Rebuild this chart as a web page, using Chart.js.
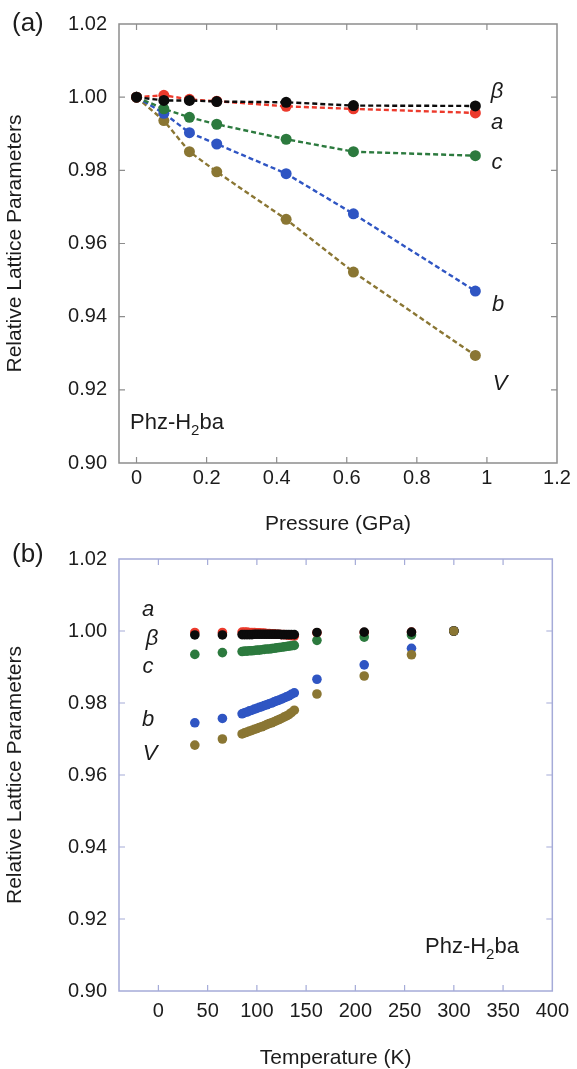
<!DOCTYPE html>
<html>
<head>
<meta charset="utf-8">
<script src="https://cdn.jsdelivr.net/npm/chart.js@4.4.1/dist/chart.umd.min.js"></script>
<style>
  body { margin: 0; background: #fff; width: 577px; height: 1069px; overflow: hidden; }
  canvas { display: block; }
</style>
</head>
<body>
<canvas id="pressureChart" width="577" height="535"></canvas>
<canvas id="tempChart" width="577" height="534"></canvas>
<script>
// (a) relative lattice parameters vs pressure (GPa)
var pressure = [0, 0.078, 0.151, 0.229, 0.427, 0.619, 0.967];
var pBeta = [1.0, 0.9991, 0.9991, 0.9988, 0.9986, 0.9977, 0.9976];
var pA    = [1.0, 1.0005, 0.9994, 0.9989, 0.9975, 0.9968, 0.9957];
var pC    = [1.0, 0.9968, 0.9945, 0.9926, 0.9885, 0.9851, 0.9840];
var pB    = [1.0, 0.9956, 0.9903, 0.9872, 0.9791, 0.9681, 0.9470];
var pV    = [1.0, 0.9936, 0.9851, 0.9796, 0.9666, 0.9522, 0.9294];

// (b) relative lattice parameters vs temperature (K)
var temperature = [37, 65,
  85, 87.5, 90, 92.5, 95, 97.5, 100, 102.5, 105, 107.5, 110,
  112.5, 115, 117.5, 120, 122.5, 125, 127.5, 130, 132.5, 135, 138,
  161, 209, 257, 300];
var tA = [0.9996, 0.9996,
  0.9997, 0.9997, 0.9997, 0.9996, 0.9996, 0.9996, 0.9995, 0.9995, 0.9994, 0.9994, 0.9993,
  0.9993, 0.9992, 0.9992, 0.9991, 0.9991, 0.9990, 0.9990, 0.9989, 0.9988, 0.9987, 0.9986,
  0.9995, 0.9996, 0.9997, 1.0];
var tBeta = [0.9989, 0.9989,
  0.9990, 0.9990, 0.9990, 0.9990, 0.9990, 0.9991, 0.9991, 0.9991, 0.9991, 0.9991, 0.9991,
  0.9991, 0.9991, 0.9991, 0.9991, 0.9991, 0.9990, 0.9990, 0.9990, 0.9990, 0.9990, 0.9990,
  0.9996, 0.9997, 0.9997, 1.0];
var tC = [0.9935, 0.9940,
  0.9943, 0.9944, 0.9944, 0.9945, 0.9945, 0.9946, 0.9947, 0.9947, 0.9948, 0.9949, 0.9950,
  0.9950, 0.9951, 0.9952, 0.9953, 0.9954, 0.9955, 0.9956, 0.9957, 0.9958, 0.9959, 0.9960,
  0.9974, 0.9983, 0.9989, 1.0];
var tB = [0.9745, 0.9757,
  0.9770, 0.9773, 0.9775, 0.9778, 0.9780, 0.9783, 0.9785, 0.9788, 0.9790, 0.9793, 0.9795,
  0.9798, 0.9800, 0.9803, 0.9806, 0.9808, 0.9811, 0.9814, 0.9817, 0.9820, 0.9824, 0.9828,
  0.9866, 0.9906, 0.9952, 1.0];
var tV = [0.9683, 0.9700,
  0.9714, 0.9717, 0.9719, 0.9722, 0.9724, 0.9727, 0.9729, 0.9732, 0.9734, 0.9737, 0.9740,
  0.9743, 0.9745, 0.9748, 0.9751, 0.9754, 0.9757, 0.9761, 0.9764, 0.9768, 0.9773, 0.9780,
  0.9825, 0.9875, 0.9934, 1.0];

var pressureTicks = [0, 0.2, 0.4, 0.6, 0.8, 1, 1.2];
var tempTicks = [0, 50, 100, 150, 200, 250, 300, 350, 400];
var latticeTicks = [0.90, 0.92, 0.94, 0.96, 0.98, 1.00, 1.02];

var FONT = '"Liberation Sans", Arial, Helvetica, sans-serif';
var TEXT = '#1c1c1c';
var col = {
  a: '#ec3a2c',
  beta: '#0b0b0b',
  c: '#2c7a3e',
  b: '#2f55c3',
  V: '#8a7633'
};

Chart.defaults.font.family = FONT;
Chart.defaults.color = TEXT;

function pts(xs, ys) {
  return xs.map(function (x, i) { return { x: x, y: ys[i] }; });
}

// box round the plot area with inward tick marks on all four sides
var frameTicks = {
  id: 'frameTicks',
  beforeDatasetsDraw: function (chart, args, opts) {
    var ctx = chart.ctx, a = chart.chartArea;
    var xs = chart.scales.x, ys = chart.scales.y, len = 6;
    ctx.save();
    ctx.strokeStyle = opts.color;
    ctx.lineWidth = 1.5;
    ctx.strokeRect(a.left, a.top, a.right - a.left, a.bottom - a.top);
    ctx.lineWidth = 1.2;
    ctx.beginPath();
    xs.ticks.forEach(function (t) {
      var px = xs.getPixelForValue(t.value);
      if (px <= a.left + 1 || px >= a.right - 1) return;
      ctx.moveTo(px, a.bottom); ctx.lineTo(px, a.bottom - len);
      ctx.moveTo(px, a.top); ctx.lineTo(px, a.top + len);
    });
    ys.ticks.forEach(function (t) {
      var py = ys.getPixelForValue(t.value);
      if (py <= a.top + 1 || py >= a.bottom - 1) return;
      ctx.moveTo(a.left, py); ctx.lineTo(a.left + len, py);
      ctx.moveTo(a.right, py); ctx.lineTo(a.right - len, py);
    });
    ctx.stroke();
    ctx.restore();
  }
};

function drawFormula(ctx, x, y) {
  ctx.textAlign = 'left';
  ctx.textBaseline = 'alphabetic';
  ctx.font = '22px ' + FONT;
  ctx.fillText('Phz-H', x, y);
  var w = ctx.measureText('Phz-H').width;
  ctx.font = '15px ' + FONT;
  ctx.fillText('2', x + w, y + 6);
  var w2 = ctx.measureText('2').width;
  ctx.font = '22px ' + FONT;
  ctx.fillText('ba', x + w + w2, y);
}

// panel letter, series names and compound name
function notes(panel, labels, formula) {
  return {
    id: 'notes',
    afterDraw: function (chart) {
      var ctx = chart.ctx;
      ctx.save();
      ctx.fillStyle = TEXT;
      ctx.textBaseline = 'middle';
      ctx.textAlign = 'left';
      ctx.font = '26px ' + FONT;
      ctx.fillText(panel.text, panel.x, panel.y);
      ctx.textAlign = 'center';
      ctx.font = 'italic 22px ' + FONT;
      labels.forEach(function (l) { ctx.fillText(l.text, l.x, l.y); });
      drawFormula(ctx, formula.x, formula.y);
      ctx.restore();
    }
  };
}

function axes(xMin, xMax, xTicks, xTitle, xPad, xHeight) {
  return {
    x: {
      type: 'linear',
      min: xMin,
      max: xMax,
      afterBuildTicks: function (s) { s.ticks = xTicks.map(function (v) { return { value: v }; }); },
      afterFit: function (s) { s.height = xHeight; },
      grid: { display: false, drawTicks: false },
      border: { display: false },
      ticks: {
        autoSkip: false,
        maxRotation: 0,
        padding: xPad,
        font: { size: 20 },
        color: TEXT,
        callback: function (v) { return String(v); }
      },
      title: {
        display: true,
        text: xTitle,
        font: { size: 21, lineHeight: 1 },
        color: TEXT,
        padding: { top: 0, bottom: 0 }
      }
    },
    y: {
      type: 'linear',
      min: 0.90,
      max: 1.02,
      afterBuildTicks: function (s) { s.ticks = latticeTicks.map(function (v) { return { value: v }; }); },
      afterFit: function (s) { s.width = 119; },
      grid: { display: false, drawTicks: false },
      border: { display: false },
      ticks: {
        padding: 12,
        font: { size: 20 },
        color: TEXT,
        callback: function (v) { return v.toFixed(2); }
      },
      title: {
        display: true,
        text: 'Relative Lattice Parameters',
        font: { size: 21, lineHeight: 1 },
        color: TEXT,
        padding: { top: 4.5, bottom: 0 }
      }
    }
  };
}

function lineSet(label, data, colour) {
  return {
    label: label,
    data: pts(pressure, data),
    showLine: true,
    borderColor: colour,
    backgroundColor: colour,
    borderWidth: 2.4,
    borderDash: [5, 3],
    pointRadius: 5.5,
    pointBorderWidth: 0,
    pointBackgroundColor: colour
  };
}

function dotSet(label, data, colour) {
  return {
    label: label,
    data: pts(temperature, data),
    showLine: false,
    backgroundColor: colour,
    pointRadius: 4.8,
    pointBorderWidth: 0,
    pointBackgroundColor: colour
  };
}

var common = {
  responsive: false,
  animation: false,
  events: [],
  plugins: { legend: { display: false }, tooltip: { enabled: false } }
};

new Chart(document.getElementById('pressureChart').getContext('2d'), {
  type: 'scatter',
  data: {
    datasets: [
      lineSet('β', pBeta, col.beta),
      lineSet('a', pA, col.a),
      lineSet('c', pC, col.c),
      lineSet('b', pB, col.b),
      lineSet('V', pV, col.V)
    ]
  },
  options: Object.assign({}, common, {
    layout: { padding: { left: 0, right: 20, top: 24, bottom: 0 } },
    scales: axes(-0.05, 1.2, pressureTicks, 'Pressure (GPa)', 3, 72),
    plugins: Object.assign({}, common.plugins, { frameTicks: { color: '#8d8d8d' } })
  }),
  plugins: [frameTicks, notes(
    { text: '(a)', x: 12, y: 24 },
    [
      { text: 'β', x: 497, y: 92 },
      { text: 'a', x: 497, y: 123 },
      { text: 'c', x: 497, y: 163 },
      { text: 'b', x: 498, y: 305 },
      { text: 'V', x: 500, y: 384 }
    ],
    { x: 130, y: 429 }
  )]
});

new Chart(document.getElementById('tempChart').getContext('2d'), {
  type: 'scatter',
  data: {
    datasets: [
      dotSet('V', tV, col.V),
      dotSet('β', tBeta, col.beta),
      dotSet('b', tB, col.b),
      dotSet('c', tC, col.c),
      dotSet('a', tA, col.a)
    ]
  },
  options: Object.assign({}, common, {
    layout: { padding: { left: 0, right: 20, top: 21, bottom: 0 } },
    scales: axes(-40, 400, tempTicks, 'Temperature (K)', 8, 78),
    plugins: Object.assign({}, common.plugins, { frameTicks: { color: '#a5abd8' } })
  }),
  plugins: [frameTicks, notes(
    { text: '(b)', x: 12, y: 20 },
    [
      { text: 'a', x: 148, y: 75 },
      { text: 'β', x: 152, y: 104 },
      { text: 'c', x: 148, y: 132 },
      { text: 'b', x: 148, y: 185 },
      { text: 'V', x: 150, y: 219 }
    ],
    { x: 425, y: 418 }
  )]
});
</script>
</body>
</html>
